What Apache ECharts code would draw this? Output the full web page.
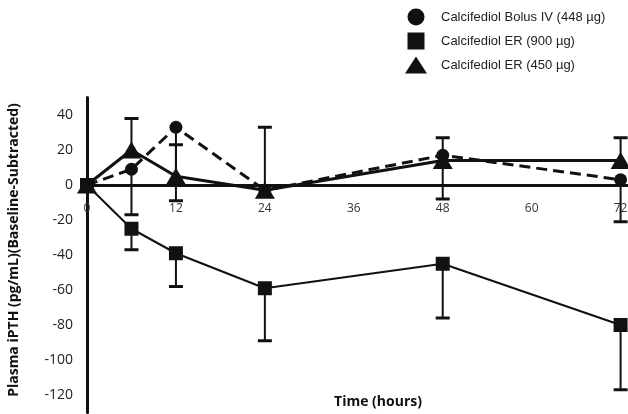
<!DOCTYPE html>
<html><head><meta charset="utf-8">
<script src="https://cdn.jsdelivr.net/npm/echarts@6/dist/echarts.min.js"></script>
<style>html,body{margin:0;padding:0;background:#fff}#c{width:628px;height:414px}</style>
</head><body><div id="c"></div>
<script>
const hours = [0, 6, 12, 24, 48, 72];
const xTicks = [0, 12, 24, 36, 48, 60, 72];
const yTicks = [-120, -100, -80, -60, -40, -20, 0, 20, 40];
const names = ['Calcifediol Bolus IV (448 µg)', 'Calcifediol ER (900 µg)', 'Calcifediol ER (450 µg)'];
const bolusIV = [0, 9, 33, -3, 17, 3];
const er900 = [0, -25, -39, -59, -45, -80];
const er450 = [0, 20, 5, -3, 14, 14];
// error bar end points (one-sided)
const bolusIVErr = [null, -17, -9, null, -8, -21];
const er900Err = [null, -37, -58, -89, -76, -117];
const er450Err = [null, 38, 23, 33, 27, 27];

const ink = '#111';
function pts(vals) { return hours.map((h, i) => [h, vals[i]]); }
function errData(vals, errs) {
  const out = [];
  hours.forEach((h, i) => { if (errs[i] !== null) out.push([h, vals[i], errs[i]]); });
  return out;
}
function errSeries(vals, errs) {
  return {
    type: 'custom', silent: true, z: 1,
    data: errData(vals, errs),
    encode: { x: 0, y: [1, 2] },
    renderItem: function (params, api) {
      const p0 = api.coord([api.value(0), api.value(1)]);
      const p1 = api.coord([api.value(0), api.value(2)]);
      const half = 7;
      return {
        type: 'group',
        children: [
          { type: 'line', shape: { x1: p0[0], y1: p0[1], x2: p1[0], y2: p1[1] }, style: { stroke: ink, lineWidth: 2 } },
          { type: 'line', shape: { x1: p1[0] - half, y1: p1[1], x2: p1[0] + half, y2: p1[1] }, style: { stroke: ink, lineWidth: 3 } }
        ]
      };
    }
  };
}

const chart = echarts.init(document.getElementById('c'));
chart.setOption({
  animation: false,
  backgroundColor: '#fff',
  grid: { left: 87, right: 0, top: 97.5, bottom: 1.5, containLabel: false, outerBoundsMode: 'none' },
  legend: {
    orient: 'vertical', left: 400, top: 3.5, itemWidth: 22, itemHeight: 17, itemGap: 7,
    textStyle: { fontFamily: 'Liberation Sans', fontSize: 13, color: '#222', padding: [0, 0, 0, 9] },
    data: [
      { name: names[0], icon: 'circle' },
      { name: names[1], icon: 'path://M0,0L10,0L10,10L0,10Z' },
      { name: names[2], icon: 'triangle' }
    ]
  },
  xAxis: {
    type: 'value', min: 0, max: 73, interval: 12,
    axisLine: { onZero: true, lineStyle: { color: ink, width: 3 } },
    axisTick: { show: false }, splitLine: { show: false },
    axisLabel: {
      fontFamily: 'Open Sans', fontSize: 12, color: '#333', margin: -210,
      formatter: v => xTicks.includes(v) ? String(v) : ''
    }
  },
  yAxis: {
    type: 'value', min: -130, max: 50, interval: 10,
    axisLine: { show: true, onZero: false, lineStyle: { color: ink, width: 3 } },
    axisTick: { show: false }, splitLine: { show: false },
    axisLabel: {
      fontFamily: 'Open Sans', fontSize: 14, color: '#222', margin: 14,
      formatter: v => yTicks.includes(v) ? String(v) : ''
    }
  },
  graphic: [
    { type: 'text', x: 14, y: 250, rotation: Math.PI / 2,
      style: { text: 'Plasma iPTH (pg/mL)(Baseline-Subtracted)', font: 'bold 14px "Open Sans"', fill: ink, textAlign: 'center', textVerticalAlign: 'middle' } },
    { type: 'text', x: 378, y: 402,
      style: { text: 'Time (hours)', font: 'bold 14px "Open Sans"', fill: ink, textAlign: 'center', textVerticalAlign: 'middle' } }
  ],
  series: [
    errSeries(er900, er900Err),
    errSeries(bolusIV, bolusIVErr),
    errSeries(er450, er450Err),
    { name: names[1], type: 'line', data: pts(er900), symbol: 'rect', symbolSize: 14, z: 3,
      lineStyle: { color: ink, width: 2 }, itemStyle: { color: ink } },
    { name: names[0], type: 'line', data: pts(bolusIV), symbol: 'circle', symbolSize: 13, z: 3,
      lineStyle: { color: ink, width: 3, type: [11, 6] }, itemStyle: { color: ink } },
    { name: names[2], type: 'line', data: pts(er450), symbol: 'triangle', symbolSize: [20, 17], z: 4,
      lineStyle: { color: ink, width: 3 }, itemStyle: { color: ink } }
  ]
});
</script></body></html>
